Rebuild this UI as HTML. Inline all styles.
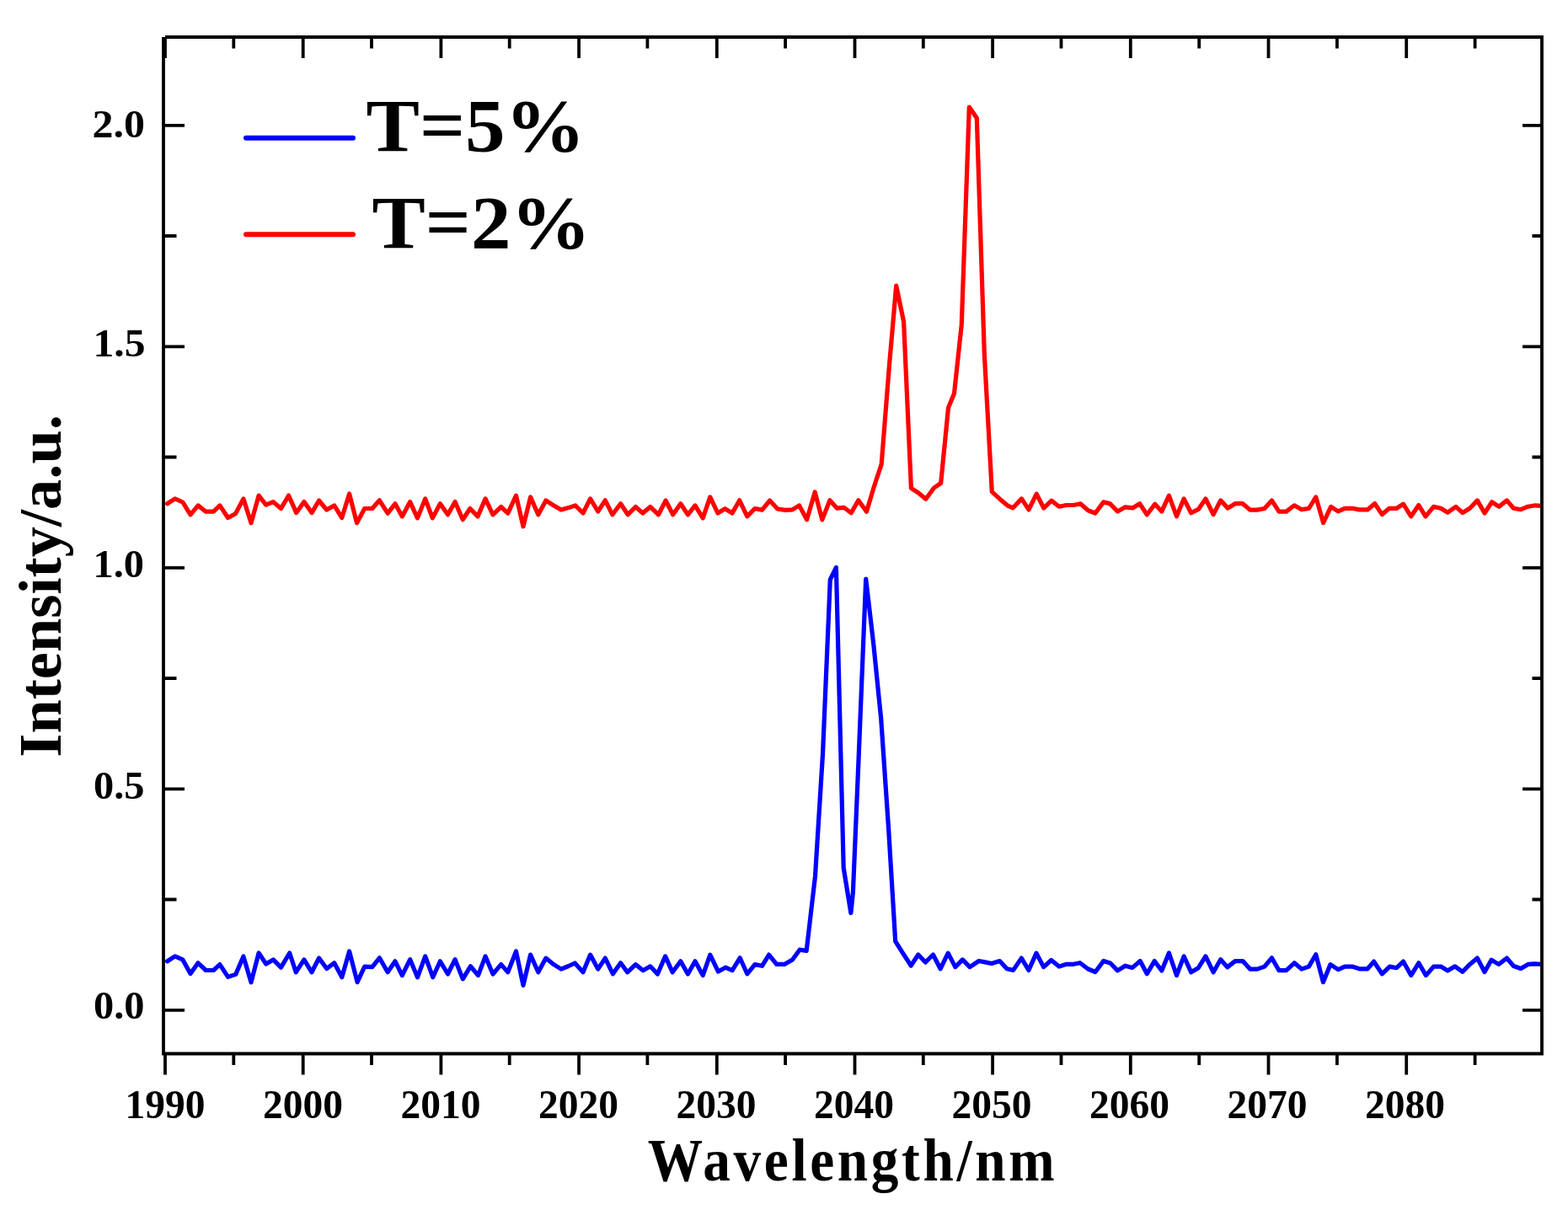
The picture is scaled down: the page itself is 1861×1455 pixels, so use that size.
<!DOCTYPE html>
<html><head><meta charset="utf-8"><title>Intensity vs Wavelength</title>
<style>
html,body{margin:0;padding:0;background:#fff;}
body{width:1861px;height:1455px;overflow:hidden;}
svg{display:block;}
text{font-family:"Liberation Serif","Times New Roman",serif;font-weight:bold;fill:#000;}
</style></head>
<body>
<svg width="1861" height="1455" viewBox="0 0 1861 1455">
<rect width="1861" height="1455" fill="#fff"/>
<path d="M196,44.0H1831.9M194.0,44.0V1252.4M1830.0,42.1V1252.4M192.1,1250.5H1831.9" fill="none" stroke="#000" stroke-width="3.8"/>
<path d="M196.0,1250.5V1275.5M196.0,44.0V69.0M277.3,1250.5V1264.0M277.3,44.0V57.5M359.7,1250.5V1275.5M359.7,44.0V69.0M441.0,1250.5V1264.0M441.0,44.0V57.5M523.4,1250.5V1275.5M523.4,44.0V69.0M604.7,1250.5V1264.0M604.7,44.0V57.5M687.1,1250.5V1275.5M687.1,44.0V69.0M768.4,1250.5V1264.0M768.4,44.0V57.5M850.8,1250.5V1275.5M850.8,44.0V69.0M932.1,1250.5V1264.0M932.1,44.0V57.5M1014.5,1250.5V1275.5M1014.5,44.0V69.0M1095.8,1250.5V1264.0M1095.8,44.0V57.5M1178.1,1250.5V1275.5M1178.1,44.0V69.0M1259.5,1250.5V1264.0M1259.5,44.0V57.5M1341.8,1250.5V1275.5M1341.8,44.0V69.0M1423.2,1250.5V1264.0M1423.2,44.0V57.5M1505.5,1250.5V1275.5M1505.5,44.0V69.0M1586.9,1250.5V1264.0M1586.9,44.0V57.5M1669.2,1250.5V1275.5M1669.2,44.0V69.0M1750.6,1250.5V1264.0M1750.6,44.0V57.5M194.0,1198.8H219.0M1830.0,1198.8H1807.0M194.0,1067.5H209.5M1830.0,1067.5H1818.5M194.0,936.3H219.0M1830.0,936.3H1807.0M194.0,805.0H209.5M1830.0,805.0H1818.5M194.0,673.8H219.0M1830.0,673.8H1807.0M194.0,542.5H209.5M1830.0,542.5H1818.5M194.0,411.3H219.0M1830.0,411.3H1807.0M194.0,280.0H209.5M1830.0,280.0H1818.5M194.0,148.8H219.0M1830.0,148.8H1807.0" stroke="#000" stroke-width="3.8" fill="none"/>
<text x="195.99" y="1327.00" font-size="47.50" text-anchor="middle">1990</text>
<text x="359.50" y="1327.00" font-size="47.50" text-anchor="middle">2000</text>
<text x="523.01" y="1327.00" font-size="47.50" text-anchor="middle">2010</text>
<text x="686.52" y="1327.00" font-size="47.50" text-anchor="middle">2020</text>
<text x="850.03" y="1327.00" font-size="47.50" text-anchor="middle">2030</text>
<text x="1013.54" y="1327.00" font-size="47.50" text-anchor="middle">2040</text>
<text x="1177.05" y="1327.00" font-size="47.50" text-anchor="middle">2050</text>
<text x="1340.56" y="1327.00" font-size="47.50" text-anchor="middle">2060</text>
<text x="1504.07" y="1327.00" font-size="47.50" text-anchor="middle">2070</text>
<text x="1667.58" y="1327.00" font-size="47.50" text-anchor="middle">2080</text>
<text x="109.50" y="162.52" font-size="47.30" textLength="62.50" lengthAdjust="spacingAndGlyphs">2.0</text>
<text x="110.50" y="423.12" font-size="47.30" textLength="62.00" lengthAdjust="spacingAndGlyphs">1.5</text>
<text x="110.50" y="685.12" font-size="47.30" textLength="60.50" lengthAdjust="spacingAndGlyphs">1.0</text>
<text x="111.00" y="947.70" font-size="47.30" textLength="60.50" lengthAdjust="spacingAndGlyphs">0.5</text>
<text x="111.00" y="1209.42" font-size="47.30" textLength="60.50" lengthAdjust="spacingAndGlyphs">0.0</text>
<text x="434.50" y="179.22" font-size="89.42" textLength="260.20" lengthAdjust="spacingAndGlyphs">T=5%</text>
<text x="441.50" y="294.22" font-size="89.42" textLength="259.80" lengthAdjust="spacingAndGlyphs">T=2%</text>
<text x="0" y="0" font-size="71.00" transform="translate(768.80 1400.80) scale(0.92 1)" textLength="524.78" lengthAdjust="spacing">Wavelength/nm</text>
<text x="72.40" y="898.80" font-size="71.28" textLength="406.60" lengthAdjust="spacingAndGlyphs" transform="rotate(-90 72.40 898.80)">Intensity/a.u.</text>
<path d="M292,163.8H419" stroke="#0000ff" stroke-width="6" stroke-linecap="round"/>
<path d="M292,278.2H419" stroke="#ff0000" stroke-width="6" stroke-linecap="round"/>
<clipPath id="c"><rect x="195.9" y="45.9" width="1632.2" height="1202.7"/></clipPath>
<g clip-path="url(#c)" fill="none" stroke-width="5.2" stroke-linejoin="round" stroke-linecap="round"><polyline stroke="#0000ff" points="198.6,1140.8 207.7,1134.9 216.9,1138.9 226.0,1155.6 235.1,1142.8 244.3,1151.5 253.4,1151.5 260.9,1144.6 270.6,1159.4 279.7,1156.4 288.9,1134.9 298.0,1165.8 307.1,1131.0 315.7,1144.0 324.3,1138.9 333.5,1148.1 343.7,1131.0 351.2,1153.8 360.9,1138.9 370.0,1153.8 378.6,1137.0 387.7,1149.6 396.7,1142.8 405.8,1159.8 414.6,1129.0 424.1,1165.7 432.7,1147.1 441.8,1147.6 450.4,1136.8 460.1,1153.8 469.0,1140.8 477.3,1157.6 486.7,1138.7 495.5,1159.8 504.7,1134.9 513.8,1159.8 522.4,1140.8 531.5,1156.0 540.1,1138.7 549.3,1161.9 558.4,1146.8 567.5,1157.6 576.1,1134.9 585.0,1156.0 594.7,1144.6 602.8,1153.8 612.5,1129.0 621.0,1169.4 629.6,1133.1 638.8,1153.8 647.9,1137.1 656.9,1144.4 666.0,1150.1 674.8,1146.5 682.3,1143.0 692.0,1153.8 700.6,1133.1 709.7,1150.1 718.3,1137.1 727.4,1155.8 736.6,1142.8 744.6,1153.8 754.3,1144.6 763.2,1151.7 771.8,1146.8 780.4,1156.0 789.6,1134.9 798.2,1153.8 807.8,1140.8 816.4,1156.0 825.0,1140.8 834.2,1157.6 842.8,1133.1 852.4,1153.0 861.0,1148.2 869.1,1151.7 878.2,1136.8 886.8,1155.8 895.9,1144.6 904.5,1146.3 912.6,1133.1 921.7,1144.4 930.9,1144.4 940.5,1139.0 949.1,1127.2 957.2,1128.3 967.5,1040.0 976.5,895.0 985.3,688.0 992.4,673.4 1001.2,1030.0 1009.9,1083.5 1012.4,1059.0 1019.0,902.0 1027.7,687.0 1036.7,764.0 1045.7,853.0 1054.7,985.0 1062.7,1117.2 1071.5,1131.2 1081.2,1146.0 1089.8,1133.0 1098.4,1142.0 1107.5,1133.0 1116.1,1149.8 1125.2,1131.1 1133.8,1147.6 1142.4,1138.9 1151.0,1147.6 1161.8,1140.5 1170.4,1142.1 1176.8,1143.5 1186.5,1140.5 1195.1,1149.8 1202.6,1151.4 1212.3,1137.1 1220.9,1151.4 1230.0,1131.1 1238.6,1147.6 1247.7,1139.5 1257.0,1147.1 1265.6,1144.3 1274.2,1144.3 1281.8,1142.7 1291.4,1150.0 1300.0,1153.5 1309.7,1140.5 1317.8,1143.0 1326.4,1151.9 1335.5,1146.2 1344.1,1148.4 1353.2,1140.5 1361.3,1155.7 1370.2,1140.6 1378.8,1152.0 1387.4,1131.0 1396.5,1157.6 1405.1,1134.9 1413.7,1153.8 1422.3,1148.7 1430.9,1134.9 1440.1,1153.8 1448.7,1138.7 1456.7,1147.9 1465.9,1140.6 1475.0,1140.6 1483.6,1150.1 1492.2,1150.1 1500.8,1147.1 1509.4,1136.8 1518.0,1151.7 1526.6,1151.7 1536.2,1142.8 1544.8,1150.1 1553.4,1147.1 1561.8,1132.8 1570.4,1165.7 1579.0,1144.6 1588.2,1150.6 1596.2,1147.1 1604.8,1147.1 1613.4,1149.8 1623.1,1149.8 1630.6,1141.1 1640.3,1155.8 1649.4,1147.1 1657.5,1148.7 1665.5,1141.1 1674.7,1157.6 1683.8,1142.8 1692.4,1157.6 1701.5,1147.1 1710.1,1147.1 1718.2,1151.9 1726.8,1146.8 1735.9,1153.3 1744.5,1144.4 1753.4,1137.1 1762.0,1153.5 1770.1,1139.2 1778.7,1144.4 1788.4,1137.1 1796.4,1146.5 1805.0,1149.5 1813.6,1144.4 1821.7,1143.9 1830.8,1144.4 1839.4,1144.4"/><polyline stroke="#ff0000" points="198.6,597.8 207.7,591.9 216.9,596.0 226.0,610.8 235.1,599.9 244.3,607.2 253.4,607.2 260.9,599.9 270.6,614.5 279.7,609.4 288.9,591.9 298.0,620.7 307.1,588.1 315.7,599.2 324.3,595.6 333.5,603.5 342.6,588.1 351.7,608.6 360.9,595.6 370.0,608.6 378.6,594.0 387.7,605.1 396.7,599.9 405.8,614.5 414.6,586.0 423.5,620.7 432.7,603.5 441.8,603.5 450.4,593.8 460.1,609.2 469.0,597.8 477.3,612.9 486.7,595.6 495.5,614.9 504.7,591.9 513.3,614.9 522.4,597.8 531.5,610.8 540.1,595.6 549.3,616.7 557.9,603.5 567.0,612.9 576.1,591.9 585.0,610.8 594.7,601.5 602.8,609.2 612.5,588.1 621.0,624.8 629.6,589.9 638.8,610.8 647.9,594.0 656.9,599.7 666.0,605.1 674.8,602.6 682.8,599.9 692.0,609.0 700.6,591.9 709.7,607.0 718.3,593.8 726.9,610.8 736.6,597.8 745.2,610.8 754.3,601.5 762.9,609.0 771.8,601.5 781.5,610.8 790.1,594.0 798.7,610.8 807.8,597.8 816.4,610.8 825.0,599.9 834.2,614.9 842.8,589.9 851.9,609.0 860.5,603.7 869.1,609.0 877.7,593.8 886.8,612.9 895.9,603.5 904.5,605.1 913.7,594.0 922.8,604.0 932.0,605.4 940.5,604.9 948.6,599.9 957.6,616.8 967.2,584.0 975.8,616.9 984.9,593.7 993.5,603.2 1001.6,602.3 1010.2,608.8 1018.8,593.7 1028.5,607.2 1037.3,577.7 1046.2,550.9 1055.3,435.5 1063.7,339.0 1072.6,381.9 1081.4,579.4 1090.1,585.0 1098.8,592.2 1108.7,578.8 1116.7,573.3 1125.5,484.0 1132.5,467.0 1141.3,385.0 1150.3,127.0 1159.3,139.9 1168.3,420.0 1177.3,583.6 1186.6,592.2 1195.6,599.8 1202.2,602.8 1212.5,591.9 1221.0,604.9 1230.2,586.1 1238.8,603.0 1247.9,594.1 1257.0,601.2 1265.6,599.5 1274.2,599.5 1282.3,597.8 1291.4,605.7 1300.0,609.0 1309.7,595.9 1317.2,597.6 1326.4,606.9 1335.5,601.8 1344.6,602.8 1352.7,597.8 1361.3,610.8 1370.7,598.2 1378.8,606.9 1387.4,588.2 1396.5,612.8 1405.1,592.0 1413.7,608.8 1422.3,604.4 1430.9,592.0 1440.1,610.6 1448.7,593.9 1457.3,603.1 1465.9,597.7 1475.0,597.7 1483.6,605.1 1492.2,605.1 1500.8,603.5 1509.4,593.9 1518.0,607.1 1526.6,607.1 1536.2,599.8 1544.8,604.7 1553.4,603.5 1561.8,589.9 1570.6,620.5 1579.6,601.4 1588.2,606.9 1596.2,603.3 1604.8,603.3 1613.4,604.9 1623.1,604.9 1631.7,597.6 1640.3,610.6 1648.9,603.3 1657.5,603.3 1665.5,598.2 1674.7,612.8 1683.8,599.6 1691.9,612.8 1701.5,601.4 1710.1,603.3 1718.2,608.2 1727.9,601.4 1735.9,608.5 1744.5,603.3 1753.4,593.9 1762.0,609.0 1770.6,595.8 1779.2,601.2 1788.4,593.9 1796.4,603.3 1805.0,604.7 1813.6,601.2 1822.2,599.8 1830.8,600.6 1839.4,600.6"/></g>
</svg>
</body></html>
